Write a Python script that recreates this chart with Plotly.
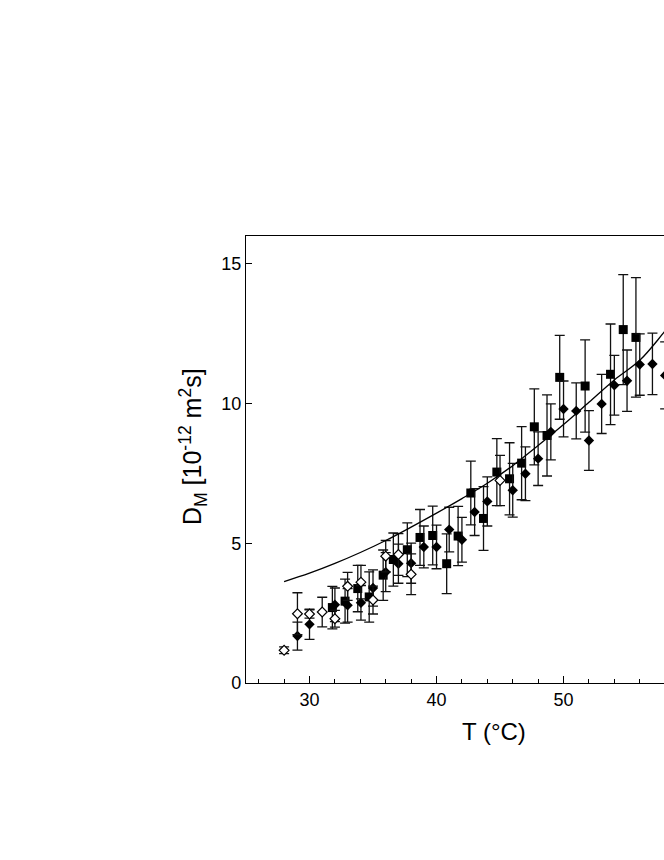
import plotly.graph_objects as go

# filled squares
sq_t = [31.8, 32.8, 33.8, 34.7, 35.8, 36.6, 37.7, 38.7, 39.7, 40.8, 41.7, 42.7, 43.7,
        44.75, 45.75, 46.7, 47.7, 48.7, 49.7, 51.7, 53.7, 54.7, 55.7]
sq_d = [2.70, 2.93, 3.38, 3.08, 3.86, 4.42, 4.77, 5.21, 5.28, 4.27, 5.26, 6.80, 5.89,
        7.55, 7.31, 7.87, 9.17, 8.86, 10.94, 10.63, 11.05, 12.65, 12.37]
sq_err = [0.76, 0.79, 0.83, 0.90, 0.90, 0.95, 0.96, 1.00, 1.05, 1.07, 1.06, 1.14, 1.14,
          1.20, 1.29, 1.31, 1.36, 1.45, 1.50, 1.65, 1.80, 1.97, 2.14]

# filled diamonds
fd_t = [29.05, 30.0, 32.0, 33.0, 34.05, 35.0, 36.0, 37.0, 38.0, 39.0, 40.0, 41.0, 42.0,
        43.0, 44.0, 46.0, 47.0, 48.0, 49.0, 50.0, 51.0, 52.0, 53.0, 54.0, 55.0, 56.0,
        57.0, 58.0]
fd_d = [1.68, 2.10, 2.80, 2.78, 2.87, 3.40, 3.97, 4.27, 4.29, 4.87, 4.87, 5.49, 5.13,
        6.12, 6.50, 6.90, 7.49, 8.03, 8.99, 9.81, 9.74, 8.68, 9.99, 10.66, 10.82, 11.40,
        11.42, 11.01]
fd_err = [0.50, 0.54, 0.60, 0.60, 0.62, 0.65, 0.70, 0.70, 0.72, 0.75, 0.78, 0.80, 0.80,
          0.84, 0.88, 0.96, 0.96, 0.96, 1.00, 1.00, 1.00, 1.07, 1.06, 1.07, 1.10, 1.10,
          1.10, 1.20]

# open diamonds
od_t = [28.0, 29.05, 30.0, 31.0, 32.0, 33.0, 34.05, 35.0, 36.0, 37.0, 38.0, 45.0]
od_d = [1.17, 2.48, 2.47, 2.54, 2.30, 3.46, 3.61, 2.97, 4.54, 4.60, 3.89, 7.25]
od_err = [0.12, 0.75, 0.15, 0.53, 0.30, 0.50, 0.60, 0.50, 0.56, 0.75, 0.73, 0.90]

# fitted curve
fit_t = [28, 30, 32, 34, 36, 38, 40, 42, 44, 46, 48, 50, 52, 54, 56, 58, 60]
fit_d = [3.63, 3.93, 4.28, 4.67, 5.10, 5.58, 6.08, 6.60, 7.15, 7.78, 8.50, 9.25,
         10.05, 10.85, 11.55, 12.60, 13.70]

font = "Liberation Sans, Arial, sans-serif"


def err_style(vals):
    return dict(type="data", array=vals, visible=True, color="#111111",
                thickness=1.3, width=5)


fig = go.Figure()
fig.add_trace(go.Scatter(
    x=sq_t, y=sq_d, mode="markers", error_y=err_style(sq_err),
    marker=dict(symbol="square", size=9, color="black", line=dict(width=0))))
fig.add_trace(go.Scatter(
    x=fd_t, y=fd_d, mode="markers", error_y=err_style(fd_err),
    marker=dict(symbol="diamond", size=8, color="black", line=dict(width=0))))
fig.add_trace(go.Scatter(
    x=od_t, y=od_d, mode="markers", error_y=err_style(od_err),
    marker=dict(symbol="diamond", size=7.5, color="white",
                line=dict(width=1.2, color="black"))))
fig.add_trace(go.Scatter(
    x=fit_t, y=fit_d, mode="lines", line=dict(color="black", width=1.3, shape="spline")))

fig.update_layout(
    width=664, height=860,
    margin=dict(l=246, r=0, t=236, b=177),
    paper_bgcolor="white", plot_bgcolor="white",
    showlegend=False,
    font=dict(family=font, size=18, color="black"),
    xaxis=dict(
        range=[25, 57.91], tickvals=[30, 40, 50], ticks="inside", ticklen=7,
        tickwidth=1.2, tickcolor="black", showline=True, linecolor="black",
        linewidth=1.2, mirror=True, showgrid=False, zeroline=False,
        minor=dict(dtick=2, tick0=0, ticks="inside", ticklen=4, tickcolor="black",
                   tickwidth=1.2, showgrid=False),
        tickfont=dict(size=18)),
    yaxis=dict(
        range=[0, 16], tickvals=[0, 5, 10, 15], ticks="inside", ticklen=6,
        tickwidth=1.2, tickcolor="black", showline=True, linecolor="black",
        linewidth=1.2, showgrid=False, zeroline=False, tickfont=dict(size=18)),
    annotations=[
        dict(text="T (°C)", xref="paper", yref="paper", x=0.593, y=-0.108,
             xanchor="center", yanchor="middle", showarrow=False,
             font=dict(size=24)),
        dict(text="D<sub>M</sub> [10<sup>-12</sup> m<sup>2</sup>s]", xref="paper",
             yref="paper", x=-0.127, y=0.53, xanchor="center", yanchor="middle",
             textangle=-90, showarrow=False, font=dict(size=25)),
    ],
)

# drop the default page margin so the figure fills the window exactly
fig.write_html("out.html", config={"displayModeBar": False}, post_script=(
    "document.body.style.margin='0';document.body.style.overflow='hidden';"))
